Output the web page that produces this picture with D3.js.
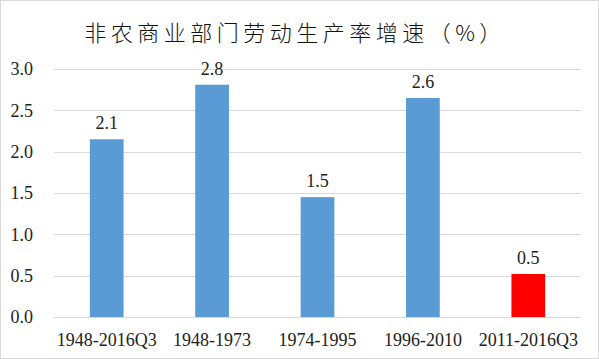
<!DOCTYPE html>
<html>
<head>
<meta charset="utf-8">
<script src="https://cdn.jsdelivr.net/npm/d3@7"></script>
<style>
  body { margin: 0; background: #fff; }
</style>
</head>
<body>
<div class="chart"></div>
<script>
var svgWidth = 599;
var svgHeight = 359;

// data
var categories = ["1948-2016Q3", "1948-1973", "1974-1995", "1996-2010", "2011-2016Q3"];
var values = [2.15, 2.81, 1.45, 2.65, 0.52];
var valueLabels = ["2.1", "2.8", "1.5", "2.6", "0.5"];
var barColors = ["#5B9BD5", "#5B9BD5", "#5B9BD5", "#5B9BD5", "#FF0000"];
var yTicks = [0, 0.5, 1.0, 1.5, 2.0, 2.5, 3.0];
var title = "非农商业部门劳动生产率增速（%）";

var margin = { top: 69, right: 18, bottom: 42, left: 54 };
var width = svgWidth - margin.left - margin.right;
var height = svgHeight - margin.top - margin.bottom;

var serif = "'Liberation Serif', 'DejaVu Serif', serif";

var svg = d3.select(".chart")
  .append("svg")
  .attr("width", svgWidth)
  .attr("height", svgHeight);

// light frame round the picture
svg.append("rect")
  .attr("x", 0.5).attr("y", 0.5)
  .attr("width", svgWidth - 1).attr("height", svgHeight - 1)
  .attr("fill", "#fff")
  .attr("stroke", "#d9d9d9");

svg.append("text")
  .attr("x", 295)
  .attr("y", 41)
  .attr("text-anchor", "middle")
  .style("font-family", "'Noto Sans CJK SC', sans-serif")
  .style("font-size", "22px")
  .style("font-weight", 300)
  .style("letter-spacing", "4.5px")
  .style("fill", "#111")
  .text(title);

var chartGroup = svg.append("g")
  .attr("transform", `translate(${margin.left}, ${margin.top})`);

var xScale = d3.scaleBand()
  .domain(categories)
  .range([0, width])
  .paddingInner(0.68)
  .paddingOuter(0.34);

var yScale = d3.scaleLinear()
  .domain([0, 3])
  .range([height, 0]);

// gridlines
chartGroup.append("g")
  .selectAll("line")
  .data(yTicks)
  .join("line")
    .attr("x1", 0)
    .attr("x2", width)
    .attr("y1", d => Math.round(yScale(d)) + 0.5)
    .attr("y2", d => Math.round(yScale(d)) + 0.5)
    .attr("stroke", "#d9d9d9")
    .attr("stroke-width", 1);

// y axis labels
var leftAxis = d3.axisLeft(yScale)
  .tickValues(yTicks)
  .tickFormat(d3.format(".1f"))
  .tickSize(0)
  .tickPadding(21);

chartGroup.append("g")
  .call(leftAxis)
  .call(g => g.select(".domain").remove())
  .call(g => g.selectAll("text")
    .style("font-family", serif)
    .style("font-size", "18px")
    .style("fill", "#222"));

// x axis labels
var bottomAxis = d3.axisBottom(xScale)
  .tickSize(0)
  .tickPadding(16);

chartGroup.append("g")
  .attr("transform", `translate(0, ${height})`)
  .call(bottomAxis)
  .call(g => g.select(".domain").remove())
  .call(g => g.selectAll("text")
    .style("font-family", serif)
    .style("font-size", "18px")
    .style("fill", "#222"));

// bars
chartGroup.selectAll(".bar")
  .data(values)
  .join("rect")
    .attr("class", "bar")
    .attr("x", (d, i) => xScale(categories[i]))
    .attr("y", d => yScale(d))
    .attr("width", xScale.bandwidth())
    .attr("height", d => height - yScale(d))
    .attr("fill", (d, i) => barColors[i]);

// value labels
chartGroup.selectAll(".value")
  .data(values)
  .join("text")
    .attr("class", "value")
    .attr("x", (d, i) => xScale(categories[i]) + xScale.bandwidth() / 2)
    .attr("y", d => yScale(d) - 10)
    .attr("text-anchor", "middle")
    .style("font-family", serif)
    .style("font-size", "18px")
    .style("fill", "#222")
    .text((d, i) => valueLabels[i]);
</script>
</body>
</html>
